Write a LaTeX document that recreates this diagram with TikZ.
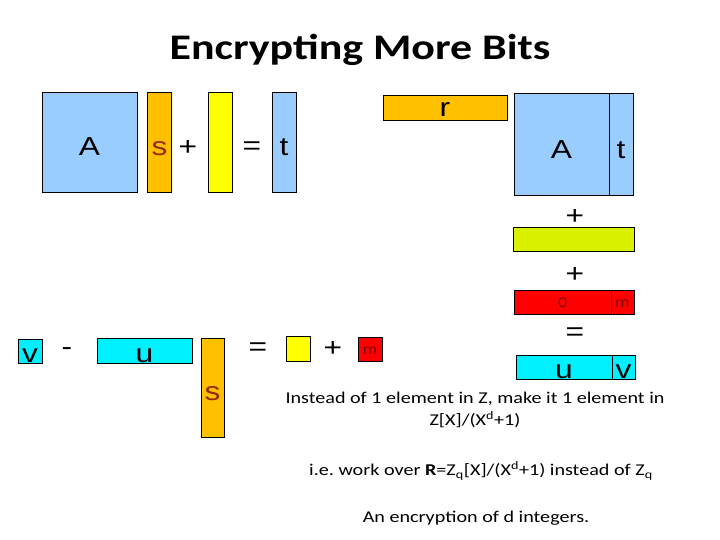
\documentclass[tikz,border=0pt]{standalone}
\usepackage{fontspec}
\usepackage{graphicx}
\setmainfont{Carlito}
\newfontfamily\boxfont{Liberation Sans}
\newcommand{\wide}[1]{\scalebox{1.22}[1]{#1}}
\definecolor{lblue}{RGB}{153,204,255}
\definecolor{sorange}{RGB}{255,192,0}
\definecolor{eyellow}{RGB}{255,255,0}
\definecolor{egreen}{RGB}{218,242,0}
\definecolor{mred}{RGB}{255,0,0}
\definecolor{ucyan}{RGB}{0,240,255}
\definecolor{sbrown}{RGB}{150,40,0}
\definecolor{mdark}{RGB}{120,0,0}
\begin{document}
\begin{tikzpicture}[
    x=1pt, y=-1pt,
    block/.style={
        rectangle,
        draw=black,
        line width=0.9pt,
        inner sep=0pt,
        text depth=0pt,
        font=\boxfont\fontsize{26}{28}\selectfont
    },
    matA/.style={
        block,
        fill=lblue,
        minimum width=95pt,
        minimum height=100pt
    },
    colvec/.style={
        block,
        minimum width=24pt,
        minimum height=100pt
    },
    rowvec/.style={
        block,
        minimum height=24pt
    },
    small/.style={
        text=mdark,
        text height=10pt,
        font=\boxfont\fontsize{14}{16}\selectfont
    },
    op/.style={
        inner sep=0pt,
        font=\boxfont\fontsize{26}{28}\selectfont
    },
    note/.style={
        align=center,
        font=\fontsize{16.5}{22}\selectfont
    }
]
\useasboundingbox (0,0) rectangle (720,540);

% Titel
\node[font=\bfseries\fontsize{36}{40}\selectfont] (title) at (360,50)
    {\wide{Encrypting More Bits}};

% A s + e = t
\node[matA, text height=28pt] (A1) at (89.5,142) {\wide{A}};
\node[colvec, fill=sorange, text=sbrown, text height=28pt]
    (s1) at (159.5,142) {\wide{s}};
\node[op] (p1) at (188,148) {\wide{+}};
\node[colvec, fill=eyellow] (e1) at (220,142) {};
\node[op] (q1) at (252,148) {\wide{=}};
\node[colvec, fill=lblue, text height=28pt] (t1) at (284,142) {\wide{t}};

% r [A|t] + e + [0|m] = [u|v]
\node[rowvec, fill=sorange, minimum width=124pt, minimum height=25pt,
    text height=19pt] (r) at (445,107.5) {\wide{r}};
\node[block, fill=lblue, minimum width=95pt, minimum height=102pt,
    text height=30pt] (A2) at (561.5,144) {\wide{A}};
\node[block, fill=lblue, minimum width=24pt, minimum height=102pt,
    text height=30pt] (t2) at (621,144) {\wide{t}};
\node[op] (p2) at (575,217) {\wide{+}};
\node[rowvec, fill=egreen, minimum width=121pt] (e2) at (573.5,239) {};
\node[op] (p3) at (575,275) {\wide{+}};
\node[rowvec, fill=mred, minimum width=97pt, small] (z2) at (562.5,302) {\wide{0}};
\node[rowvec, fill=mred, minimum width=23pt, small] (m2) at (622.5,302) {\wide{m}};
\node[op] (q2) at (575,334) {\wide{=}};
\node[rowvec, fill=ucyan, minimum width=96pt, text height=23pt]
    (u2) at (564,367) {\wide{u}};
\node[rowvec, fill=ucyan, minimum width=23pt, text height=23pt]
    (v2) at (623.5,367) {\wide{v}};

% v - u s = e + m
\node[rowvec, fill=ucyan, minimum width=24pt, text height=23pt]
    (v3) at (30,351) {\wide{v}};
\node[op] (mi) at (67,352) {\wide{-}};
\node[rowvec, fill=ucyan, minimum width=95pt, minimum height=25pt,
    text height=24pt] (u3) at (144.5,350.5) {\wide{u}};
\node[colvec, fill=sorange, text=sbrown, minimum width=23pt,
    minimum height=99pt, text height=26pt] (s3) at (212.5,387.5) {\wide{s}};
\node[op] (q3) at (258,349) {\wide{=}};
\node[rowvec, fill=eyellow, minimum width=24pt, minimum height=25pt]
    (e3) at (298,348.5) {};
\node[op] (p4) at (333,349) {\wide{+}};
\node[rowvec, fill=mred, minimum width=24pt, small] (m3) at (370,349) {\wide{m}};

% Tekst
\node[note] (txt1) at (475,410)
    {\wide{\begin{tabular}{@{}c@{}}
     Instead of 1 element in Z, make it 1 element in\\
     Z[X]/(X\textsuperscript{d}+1)
     \end{tabular}}};
\node[note] (txt2) at (481,471)
    {\wide{i.e.\ work over \textbf{R}=Z\textsubscript{q}[X]/(X\textsuperscript{d}+1)
     instead of Z\textsubscript{q}}};
\node[note] (txt3) at (476,518) {\wide{An encryption of d integers.}};

\end{tikzpicture}
\end{document}
